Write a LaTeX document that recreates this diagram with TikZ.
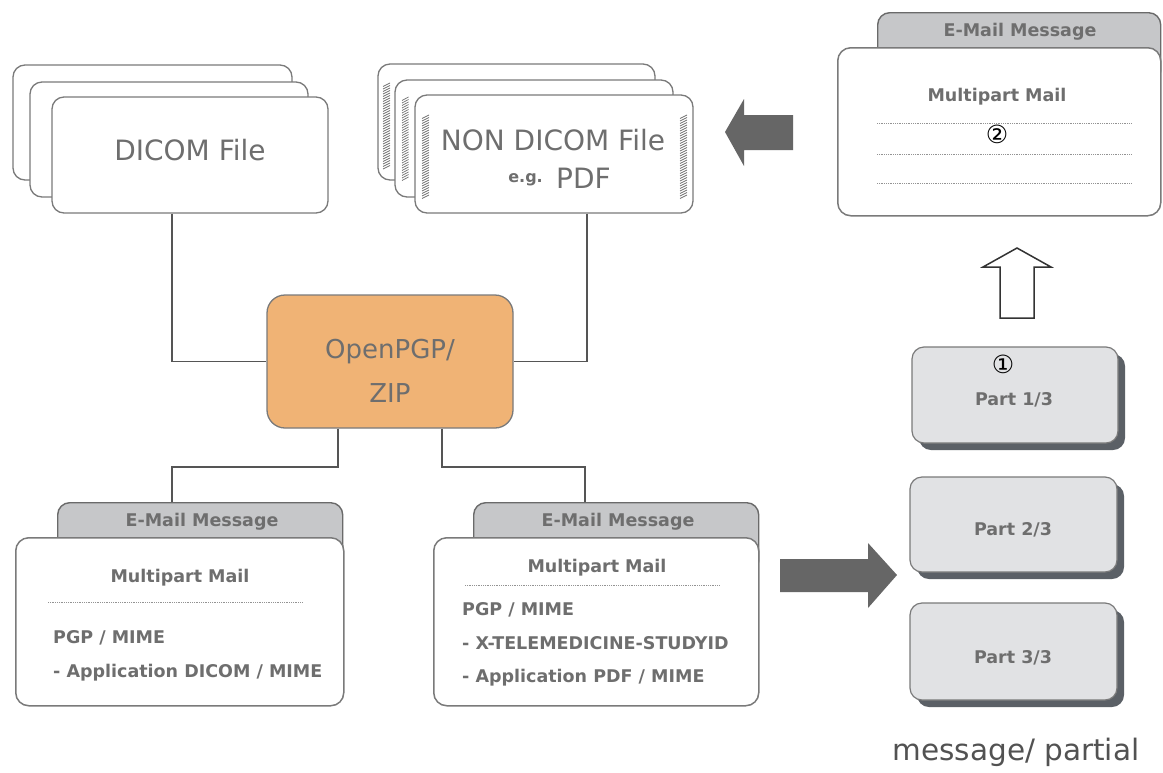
\documentclass[tikz,border=0pt]{standalone}
\usepackage{fontspec}
\setmainfont{DejaVu Sans}
\definecolor{cardline}{HTML}{7A7A7A}
\definecolor{txtgray}{HTML}{6E6E6E}
\definecolor{connline}{HTML}{555555}
\definecolor{tabfill}{HTML}{C6C7C9}
\definecolor{tabline}{HTML}{6A6A6A}
\definecolor{partfill}{HTML}{E1E2E4}
\definecolor{partshadow}{HTML}{5B6066}
\definecolor{pgpfill}{HTML}{F0B375}
\definecolor{arrowgray}{HTML}{666666}
\definecolor{hatchgray}{HTML}{707070}
\tikzset{
  card/.style={draw=cardline, fill=white, rounded corners=12pt, line width=1.3pt},
  cardnode/.style={card, inner sep=0pt},
  bigtxt/.style={text=txtgray, font=\fontsize{28}{31}\selectfont, inner sep=0pt},
  mailtxt/.style={text=txtgray, font=\fontsize{17.5}{20}\selectfont\bfseries, inner sep=0pt},
  tabbox/.style={draw=tabline, fill=tabfill, rounded corners=12pt, line width=1.4pt, inner sep=0pt},
  mailcard/.style={draw=cardline, fill=white, rounded corners=13pt, line width=1.5pt, inner sep=0pt},
  conn/.style={draw=connline, line width=1.6pt},
  dotline/.style={draw=gray!85, line width=1pt, dash pattern=on 0.9pt off 0.9pt},
  hatchline/.style={draw=hatchgray, line width=0.7pt},
  partbox/.style={draw=cardline, fill=partfill, rounded corners=12pt, line width=1.2pt, inner sep=0pt,
     minimum width=206pt, minimum height=96pt},
  partshade/.style={fill=partshadow, rounded corners=12pt},
  parttxt/.style={text=txtgray, font=\fontsize{17.5}{20}\selectfont\bfseries, inner sep=0pt},
  circnum/.style={text=black, font=\fontsize{25}{27}\selectfont, inner sep=0pt},
}
\newcommand\hatchstrip[4]{% x, ytop, count, width
  \foreach \i in {0,...,#3} \draw[hatchline] (#1,#2+\i*2.5+3.5) -- (#1+#4,#2+\i*2.5);}
\begin{document}
\begin{tikzpicture}[x=1pt,y=-1pt]
\useasboundingbox[fill=white] (0,0) rectangle (1163,772);

% DICOM stack
\draw[card] (13,65) rectangle (292,180);
\draw[card] (30,82) rectangle (308,197);
\node[cardnode, minimum width=276pt, minimum height=116pt] (dicom) at (190,155) {};
\node[bigtxt] (dicomlbl) at (190,150) {DICOM File};

% NON DICOM stack
\draw[card] (378,64) rectangle (655,180);
\hatchstrip{383}{83}{33}{7}
\draw[card] (395,80) rectangle (673,197);
\hatchstrip{402}{97}{32}{6.5}
\node[cardnode, minimum width=278pt, minimum height=118pt] (nondicom) at (554,154) {};
\hatchstrip{422}{115}{32}{7}
\hatchstrip{680}{115}{32}{7}
\node[bigtxt] (nondicomlbl) at (553,140) {NON DICOM File};
\node[bigtxt, anchor=base west] (pdflbl) at (556,188) {PDF};
\node[text=txtgray, font=\fontsize{16}{18}\selectfont\bfseries, inner sep=0pt, anchor=base east] (eglbl) at (543,182) {e.g.};

% left arrow (gray)
\fill[arrowgray] (725,132) -- (744,99) -- (744,115) -- (793,115) -- (793,150) -- (744,150) -- (744,166) -- cycle;

% Top-right email
\node[tabbox, minimum width=283pt, minimum height=70pt, anchor=north west] (mailRtab) at (877,12) {};
\node[mailtxt] (mailRtablbl) at (1020,32) {E-Mail Message};
\node[mailcard, minimum width=323pt, minimum height=168pt, anchor=north west] (mailR) at (837,47) {};
\node[mailtxt] (mailRmp) at (997,97) {Multipart Mail};
\draw[dotline] (877,123) -- (1132,123);
\draw[dotline] (877,154) -- (1132,154);
\draw[dotline] (877,183) -- (1132,183);
\node[circnum] (two) at (997,134) {②};

% up hollow arrow
\draw[draw=black!80, fill=white, line width=1.5pt, line join=miter]
  (1017,248) -- (1051,267) -- (1034,267) -- (1034,318) -- (1000,318) -- (1000,267) -- (983,267) -- cycle;

% Parts
\fill[partshade] (919,354) rectangle (1125,450);
\node[partbox] (p1) at (1015,395) {};
\node[parttxt] (p1lbl) at (1014,400) {Part 1/3};
\node[circnum] (one) at (1003,364) {①};

\fill[partshade] (917,484) rectangle (1124,579);
\node[partbox, minimum width=207pt, minimum height=95pt] (p2) at (1013.5,524.5) {};
\node[parttxt] (p2lbl) at (1013,530) {Part 2/3};

\fill[partshade] (917,610) rectangle (1124,707);
\node[partbox, minimum width=207pt, minimum height=97pt] (p3) at (1013.5,651.5) {};
\node[parttxt] (p3lbl) at (1013,658) {Part 3/3};

\node[text=black!68, font=\fontsize{29.5}{32}\selectfont, inner sep=0pt] (partial) at (1016,752) {message/ partial};

% OpenPGP box
\node[draw=cardline, fill=pgpfill, rounded corners=18pt, line width=1.3pt, inner sep=0pt,
      minimum width=246pt, minimum height=133pt] (pgp) at (390,361.5) {};
\node[text=txtgray, font=\fontsize{26}{29}\selectfont, inner sep=0pt] (pgplbl1) at (390,352) {OpenPGP/};
\node[text=txtgray, font=\fontsize{26}{29}\selectfont, inner sep=0pt] (pgplbl2) at (390,393) {ZIP};

% Bottom-left email
\node[tabbox, minimum width=285pt, minimum height=70pt, anchor=north west] (mailLtab) at (57,502) {};
\node[mailtxt] (mailLtablbl) at (202,522) {E-Mail Message};
\node[mailcard, minimum width=328pt, minimum height=168pt, anchor=north west] (mailL) at (15,537) {};
\node[mailtxt] (mailLmp) at (180,578) {Multipart Mail};
\draw[dotline] (48,602) -- (303,602);
\node[mailtxt, anchor=west] (mailL1) at (53,638) {PGP / MIME};
\node[mailtxt, anchor=west] (mailL2) at (53,673) {- Application DICOM / MIME};

% Bottom-middle email
\node[tabbox, minimum width=285pt, minimum height=70pt, anchor=north west] (mailMtab) at (473,502) {};
\node[mailtxt] (mailMtablbl) at (618,522) {E-Mail Message};
\node[mailcard, minimum width=325pt, minimum height=168pt, anchor=north west] (mailM) at (433,537) {};
\node[mailtxt] (mailMmp) at (597,568) {Multipart Mail};
\draw[dotline] (465,585) -- (720,585);
\node[mailtxt, anchor=west] (mailM1) at (462,610) {PGP / MIME};
\node[mailtxt, anchor=west] (mailM2) at (462,643) {- X-TELEMEDICINE-STUDYID};
\node[mailtxt, anchor=west] (mailM3) at (462,678) {- Application PDF / MIME};

% big right arrow
\fill[arrowgray] (780,559) -- (868,559) -- (868,543) -- (897,575) -- (868,608) -- (868,592) -- (780,592) -- cycle;

% connectors
\draw[conn] (dicom.south -| 172,0) |- (pgp.west);
\draw[conn] (nondicom.south -| 587,0) |- (pgp.east);
\draw[conn] (pgp.south -| 338,0) -- (338,467) -| (mailLtab.north -| 172,0);
\draw[conn] (pgp.south -| 442,0) -- (442,467) -| (mailMtab.north -| 585,0);
\end{tikzpicture}
\end{document}
